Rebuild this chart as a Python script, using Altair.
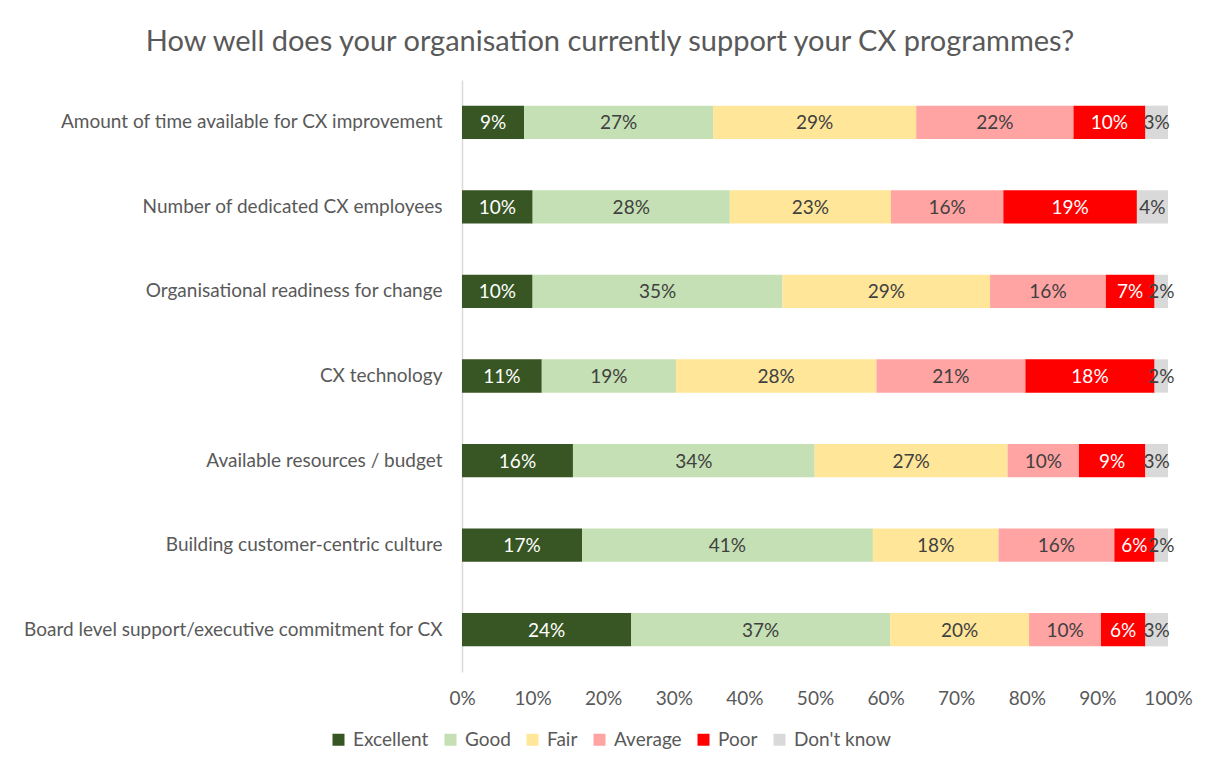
import altair as alt
import pandas as pd

categories = [
    "Amount of time available for CX improvement",
    "Number of dedicated CX employees",
    "Organisational readiness for change",
    "CX technology",
    "Available resources / budget",
    "Building customer-centric culture",
    "Board level support/executive commitment for CX",
]
ratings = ["Excellent", "Good", "Fair", "Average", "Poor", "Don't know"]
excellent = [8.8, 10.0, 10.0, 11.3, 15.7, 17.0, 24.0]
good = [26.8, 27.9, 35.4, 19.0, 34.2, 41.2, 36.7]
fair = [28.8, 22.8, 29.4, 28.4, 27.3, 17.8, 19.7]
average = [22.3, 15.9, 16.4, 21.1, 10.1, 16.4, 10.2]
poor = [10.2, 18.9, 6.9, 18.3, 9.4, 5.7, 6.3]
dont_know = [3.2, 4.4, 1.9, 1.9, 3.2, 1.9, 3.2]
x_ticks = [0, 0.1, 0.2, 0.3, 0.4, 0.5, 0.6, 0.7, 0.8, 0.9, 1.0]
colors = ["#375623", "#C5E0B4", "#FFE699", "#FFA3A3", "#FF0000", "#D9D9D9"]

series = [excellent, good, fair, average, poor, dont_know]
rows = []
for k, (r, vals) in enumerate(zip(ratings, series)):
    for c, v in zip(categories, vals):
        rows.append({"category": c, "rating": r, "value": v, "order": k})
df = pd.DataFrame(rows)

FONT = "Lato"
GREY = "#595959"
FS = 19

x_axis = alt.Axis(
    title="",
    format=".0%",
    values=x_ticks,
    grid=False,
    domain=False,
    ticks=False,
    labelFlush=False,
    labelPadding=17,
    labelFont=FONT,
    labelFontSize=FS,
    labelColor=GREY,
)
y_axis = alt.Axis(
    title="",
    domainColor="#D9D9D9",
    domainWidth=1.5,
    ticks=False,
    labelPadding=20,
    labelFont=FONT,
    labelFontSize=FS,
    labelColor=GREY,
    labelLimit=600,
)
x_scale = alt.Scale(domain=[0, 1])
y_scale = alt.Scale(paddingInner=0.606, paddingOuter=0.303)

base = alt.Chart(df)

bars = base.mark_bar().encode(
    y=alt.Y("category:N", sort=categories, scale=y_scale, axis=y_axis),
    x=alt.X("value:Q", stack="normalize", scale=x_scale, axis=x_axis),
    color=alt.Color(
        "rating:N",
        sort=ratings,
        scale=alt.Scale(domain=ratings, range=colors),
        legend=alt.Legend(
            title=None,
            orient="none",
            direction="horizontal",
            legendX=-133,
            legendY=650,
            symbolType="square",
            symbolSize=144,
            symbolStrokeWidth=0,
            labelFont=FONT,
            labelFontSize=FS,
            labelColor=GREY,
            labelOffset=5,
            columnPadding=12,
        ),
    ),
    order=alt.Order("order:Q"),
)

labels = (
    base.transform_stack(
        stack="value",
        groupby=["category"],
        sort=[alt.SortField("order")],
        offset="normalize",
        as_=["s0", "s1"],
    )
    .transform_calculate(mid="(datum.s0 + datum.s1) / 2", label="format(datum.value, '.0f') + '%'")
    .mark_text(font=FONT, fontSize=FS, align="center", baseline="middle", dy=1)
    .encode(
        y=alt.Y("category:N", sort=categories, scale=y_scale, axis=y_axis),
        x=alt.X("mid:Q", scale=x_scale, axis=x_axis),
        text="label:N",
        color=alt.condition(
            "datum.rating == 'Excellent' || datum.rating == 'Poor'",
            alt.value("#FFFFFF"),
            alt.value("#404040"),
        ),
    )
)

chart = (
    alt.layer(bars, labels)
    .properties(
        width=706,
        height=592,
        title=alt.TitleParams(
            text="How well does your organisation currently support your CX programmes?",
            anchor="middle",
            dx=-205,
            offset=23,
            font=FONT,
            fontSize=29,
            fontWeight="normal",
            color=GREY,
        ),
        autosize=alt.AutoSizeParams(type="none"),
        padding={"left": 454, "top": 72, "right": 29, "bottom": 79},
        background="#FFFFFF",
    )
    .configure_view(stroke="transparent")
)

chart.save("out.html", embed_options={"renderer": "svg", "actions": False})
